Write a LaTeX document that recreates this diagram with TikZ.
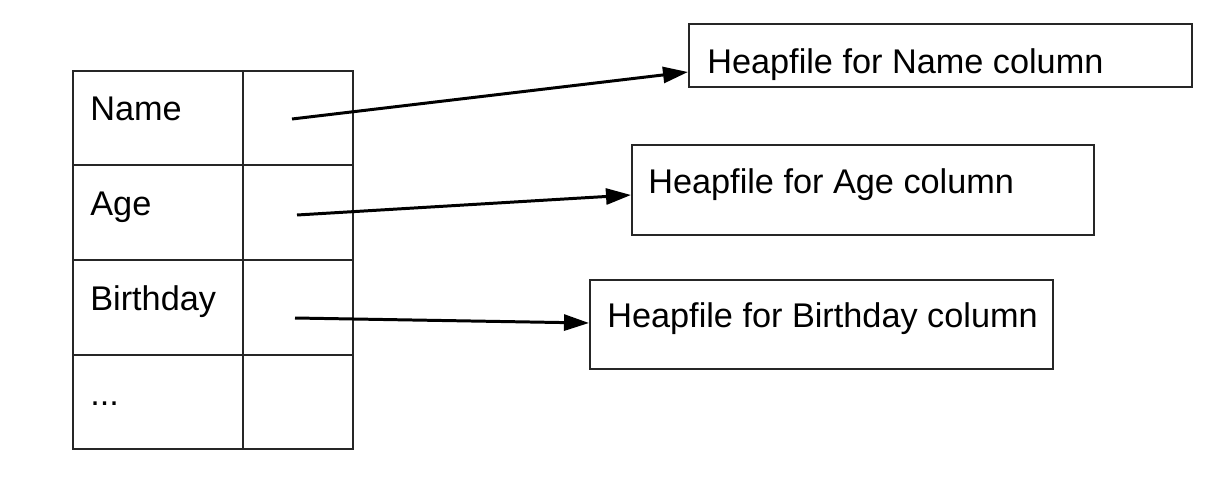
\documentclass[tikz,border=0pt]{standalone}
\usepackage{fontspec}
\setmainfont{Liberation Sans}
\usetikzlibrary{arrows.meta,positioning}

\tikzset{
  celltext/.style={anchor=base west, inner sep=0pt, font=\fontsize{19.5}{23}\selectfont},
  heapbox/.style={draw=black!85, line width=1pt, anchor=north west, inner sep=0pt},
  tablegrid/.style={line width=1pt, black!85},
  ptr/.style={line width=1.7pt, -{Triangle[length=0.5cm,width=0.32cm]}}
}

\begin{document}
\begin{tikzpicture}[x=0.02cm,y=-0.02cm]
    \useasboundingbox (0,0) rectangle (1206,490);
    % column table
    \draw[tablegrid] (73,71) rectangle (353,449);
    \draw[tablegrid] (243,71) -- (243,449);
    \foreach \y in {165,260,355}
        \draw[tablegrid] (73,\y) -- (353,\y);
    \node[celltext] (cname) at (90,120) {Name};
    \node[celltext] (cage) at (90,215) {Age};
    \node[celltext] (cbday) at (90,310) {Birthday};
    \node[celltext] (cmore) at (90,405) {...};
    % pointers in the second column
    \coordinate (pname) at (292,119);
    \coordinate (page) at (297,215);
    \coordinate (pbday) at (295,318);
    % heapfiles
    \node[heapbox, minimum width=10.06cm, minimum height=1.26cm] (hname) at (688,23) {};
    \node[celltext] (tname) at (707,73) {Heapfile for Name column};
    \node[heapbox, minimum width=9.24cm, minimum height=1.8cm] (hage) at (631,144) {};
    \node[celltext] (tage) at (648,193) {Heapfile for Age column};
    \node[heapbox, minimum width=9.26cm, minimum height=1.78cm] (hbday) at (589,279) {};
    \node[celltext] (tbday) at (607,327) {Heapfile for Birthday column};
    \coordinate (ename) at (hname.west |- 0,72);
    \coordinate (eage) at (hage.west |- 0,195);
    \coordinate (ebday) at (hbday.west |- 0,323);
    \draw[ptr] (pname) -- (ename);
    \draw[ptr] (page) -- (eage);
    \draw[ptr] (pbday) -- (ebday);
\end{tikzpicture}
\end{document}
